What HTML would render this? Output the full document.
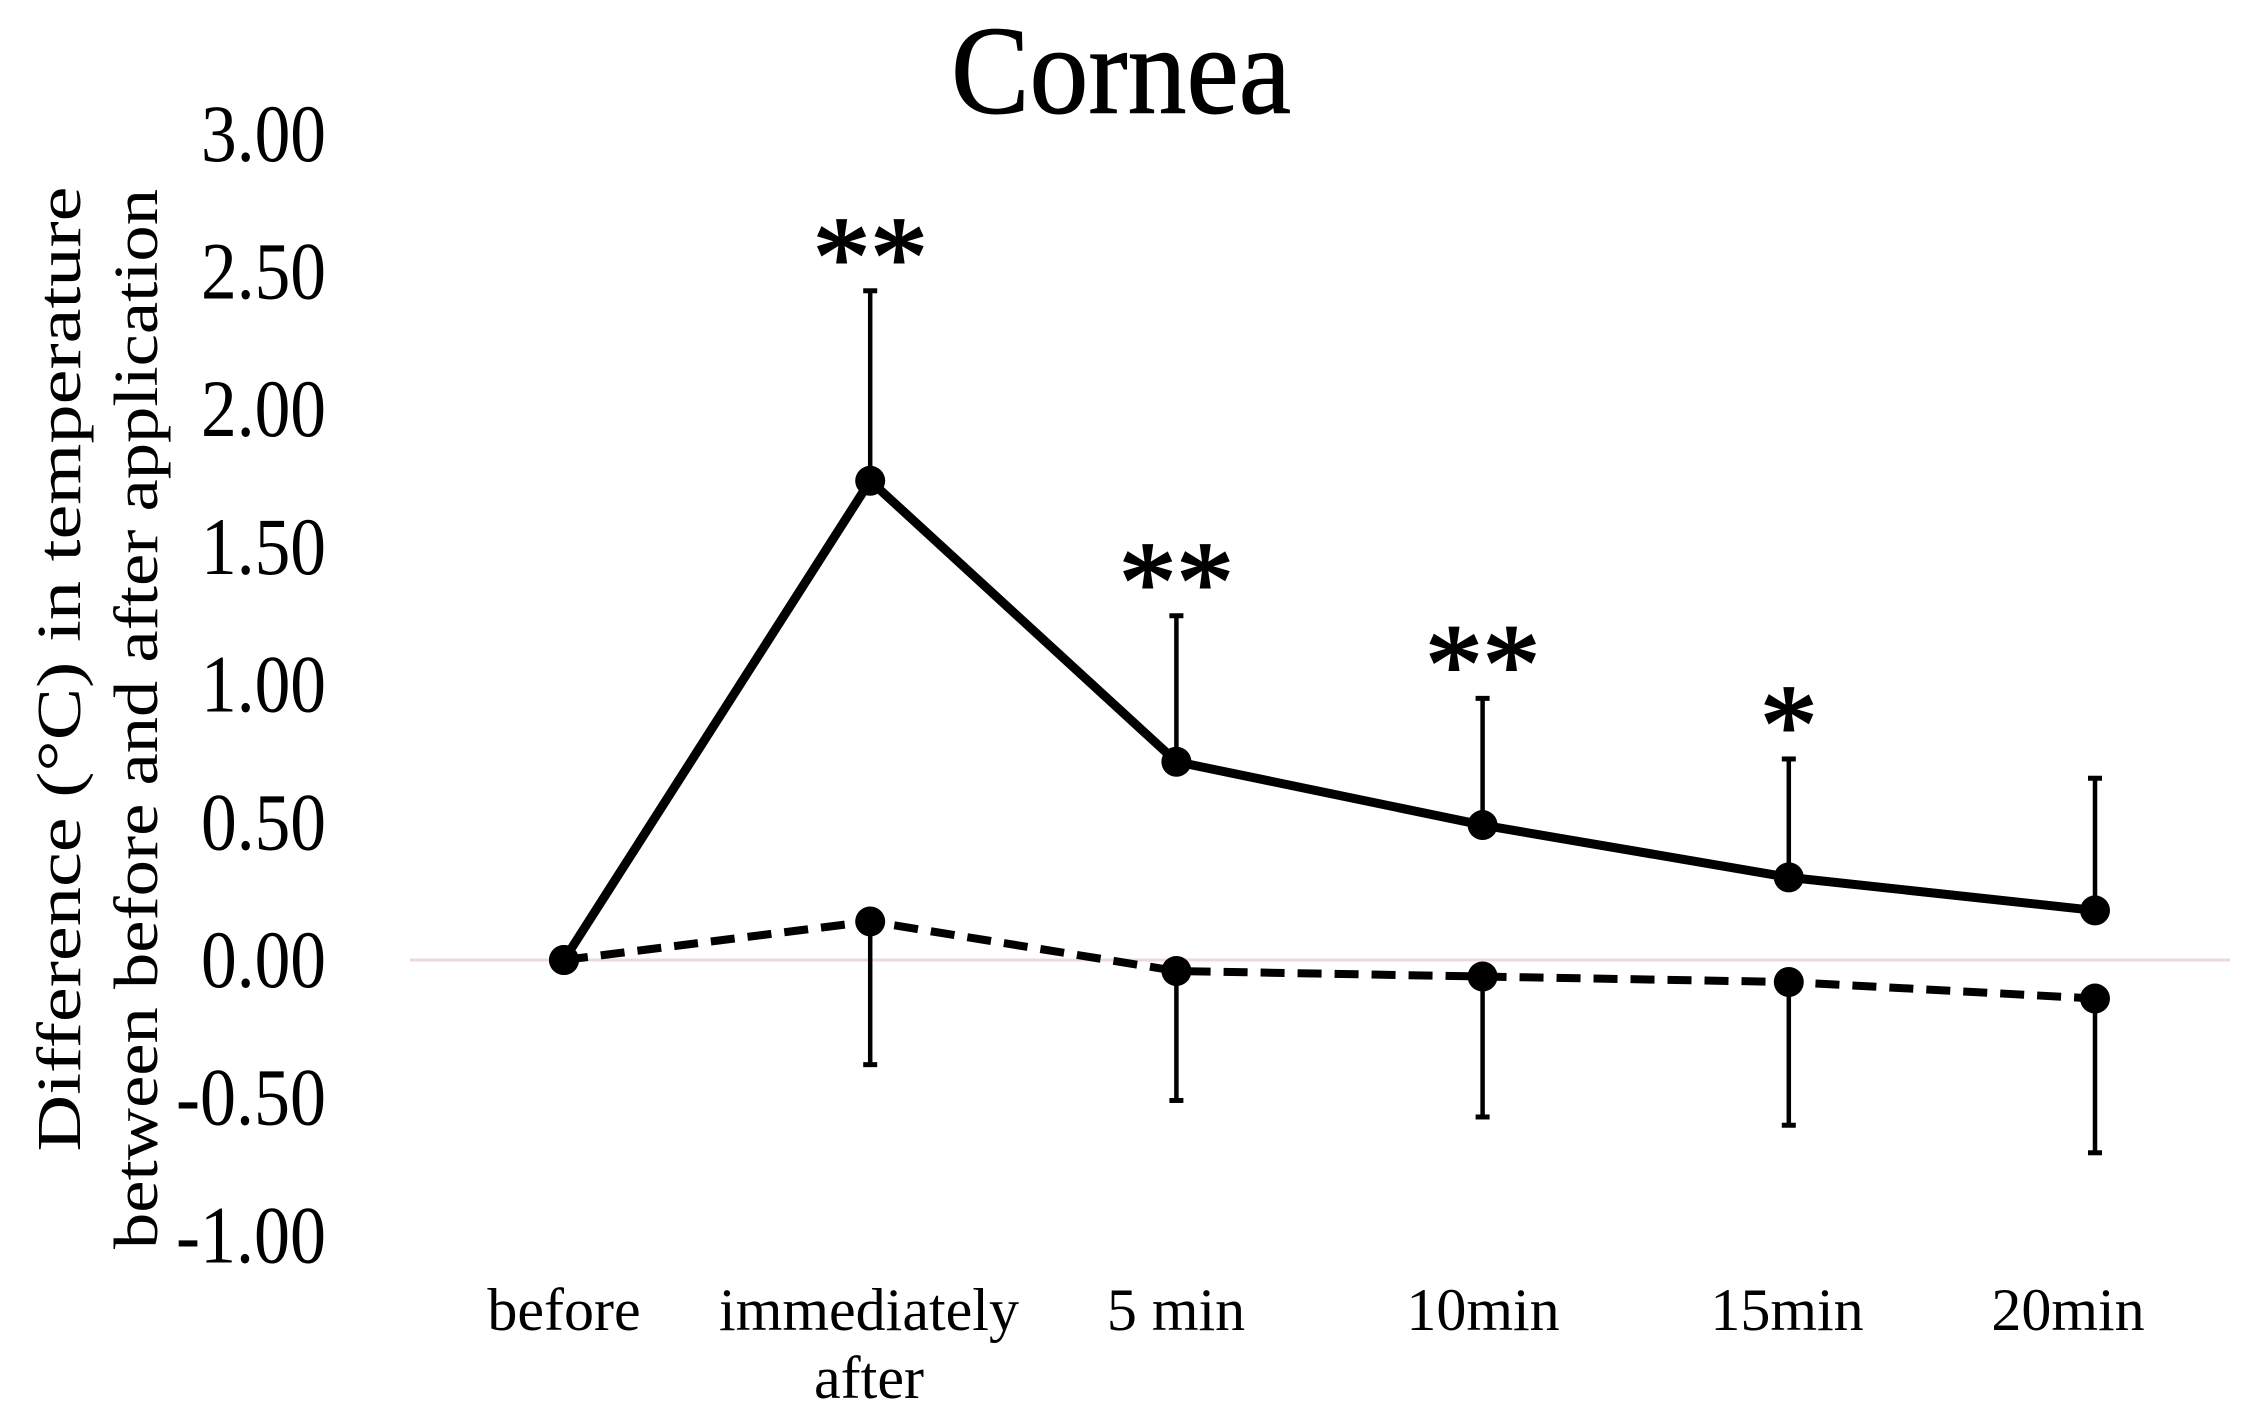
<!DOCTYPE html>
<html><head><meta charset="utf-8"><style>html,body{margin:0;padding:0;background:#fff;}svg{display:block;}</style></head>
<body>
<svg id="chart" width="2256" height="1415" viewBox="0 0 2256 1415" xmlns="http://www.w3.org/2000/svg" font-family="'Liberation Serif', serif">
<text x="1121" y="113" font-size="126" text-anchor="middle" textLength="340" lengthAdjust="spacingAndGlyphs" stroke="#000" stroke-width="1">Cornea</text>
<g font-size="62">
<text transform="translate(80,669) rotate(-90)" text-anchor="middle" textLength="965" lengthAdjust="spacingAndGlyphs">Difference (°C) in temperature</text>
<text transform="translate(157,719) rotate(-90)" text-anchor="middle" textLength="1060" lengthAdjust="spacingAndGlyphs">between before  and after application</text>
</g>
<line x1="410" y1="960" x2="2230" y2="960" stroke="#f0d8d8" stroke-width="3"/>
<g id="yticks"></g>
<g id="xticks"></g>
<g id="plot"></g>
</svg>
<script>
const categories = ["before", "immediately|after", "5 min", "10min", "15min", "20min"];
const treatedMean = [0, 1.74, 0.72, 0.49, 0.30, 0.18];
const treatedUpper = [null, 2.43, 1.25, 0.95, 0.73, 0.66];
const controlMean = [0, 0.14, -0.04, -0.06, -0.08, -0.14];
const controlLower = [null, -0.38, -0.51, -0.57, -0.60, -0.70];
const significance = ["", "**", "**", "**", "*", ""];
const yTicks = [3.00, 2.50, 2.00, 1.50, 1.00, 0.50, 0.00, -0.50, -1.00];

const NS = "http://www.w3.org/2000/svg";
function xPos(i){ return 564 + i * 306.2; }
function yPos(v){ return 960 - v * 275.4; }
function mk(tag, attrs, parent){ const e = document.createElementNS(NS, tag); for (const k in attrs) e.setAttribute(k, attrs[k]); parent.appendChild(e); return e; }

const yg = document.getElementById('yticks');
yTicks.forEach(v => {
  const t = mk('text', {x: 326, y: yPos(v) + 27, 'font-size': 82, 'text-anchor': 'end'}, yg);
  
  
  t.textContent = v.toFixed(2);
  t.setAttribute('textLength', v < 0 ? 150 : 125);
  t.setAttribute('lengthAdjust', 'spacingAndGlyphs');
});

const xg = document.getElementById('xticks');
const labelX = [564, 869, 1176, 1483, 1787, 2068];
categories.forEach((c, i) => {
  c.split('|').forEach((part, j) => {
    const t = mk('text', {x: labelX[i], y: 1330 + j * 68, 'font-size': 60, 'text-anchor': 'middle'}, xg);
    
    
    t.textContent = part;
  });
});

const pg = document.getElementById('plot');
treatedUpper.forEach((u, i) => {
  if (u === null) return;
  const l = mk('line', {x1: xPos(i), x2: xPos(i), y1: yPos(treatedMean[i]), y2: yPos(u), stroke: '#000', 'stroke-width': 4.5}, pg);
  
  
  const c = mk('line', {x1: xPos(i) - 7, x2: xPos(i) + 7, y1: yPos(u), y2: yPos(u), stroke: '#000', 'stroke-width': 5}, pg);
  
  
});
controlLower.forEach((u, i) => {
  if (u === null) return;
  const l = mk('line', {x1: xPos(i), x2: xPos(i), y1: yPos(controlMean[i]), y2: yPos(u), stroke: '#000', 'stroke-width': 4.5}, pg);
  
  
  const c = mk('line', {x1: xPos(i) - 7, x2: xPos(i) + 7, y1: yPos(u), y2: yPos(u), stroke: '#000', 'stroke-width': 5}, pg);
  
  
});
const sp = mk('polyline', {points: treatedMean.map((v, i) => xPos(i) + ',' + yPos(v)).join(' '), fill: 'none', stroke: '#000', 'stroke-width': 9, 'stroke-linejoin': 'round'}, pg);


const dp = mk('polyline', {points: controlMean.map((v, i) => xPos(i) + ',' + yPos(v)).join(' '), fill: 'none', stroke: '#000', 'stroke-width': 8, 'stroke-dasharray': '24 13'}, pg);


treatedMean.forEach((v, i) => {
  const m = mk('circle', {cx: xPos(i), cy: yPos(v), r: 15, fill: '#000'}, pg);
  
  
});
controlMean.forEach((v, i) => {
  const m = mk('circle', {cx: xPos(i), cy: yPos(v), r: 15, fill: '#000'}, pg);
  
  
});
significance.forEach((s, i) => {
  if (!s) return;
  const t = mk('text', {x: xPos(i), y: yPos(treatedUpper[i]) + 5, 'font-size': 115, 'text-anchor': 'middle', stroke: '#000', 'stroke-width': 2}, pg);
  
  
  t.textContent = s;
});
</script>
</body></html>
